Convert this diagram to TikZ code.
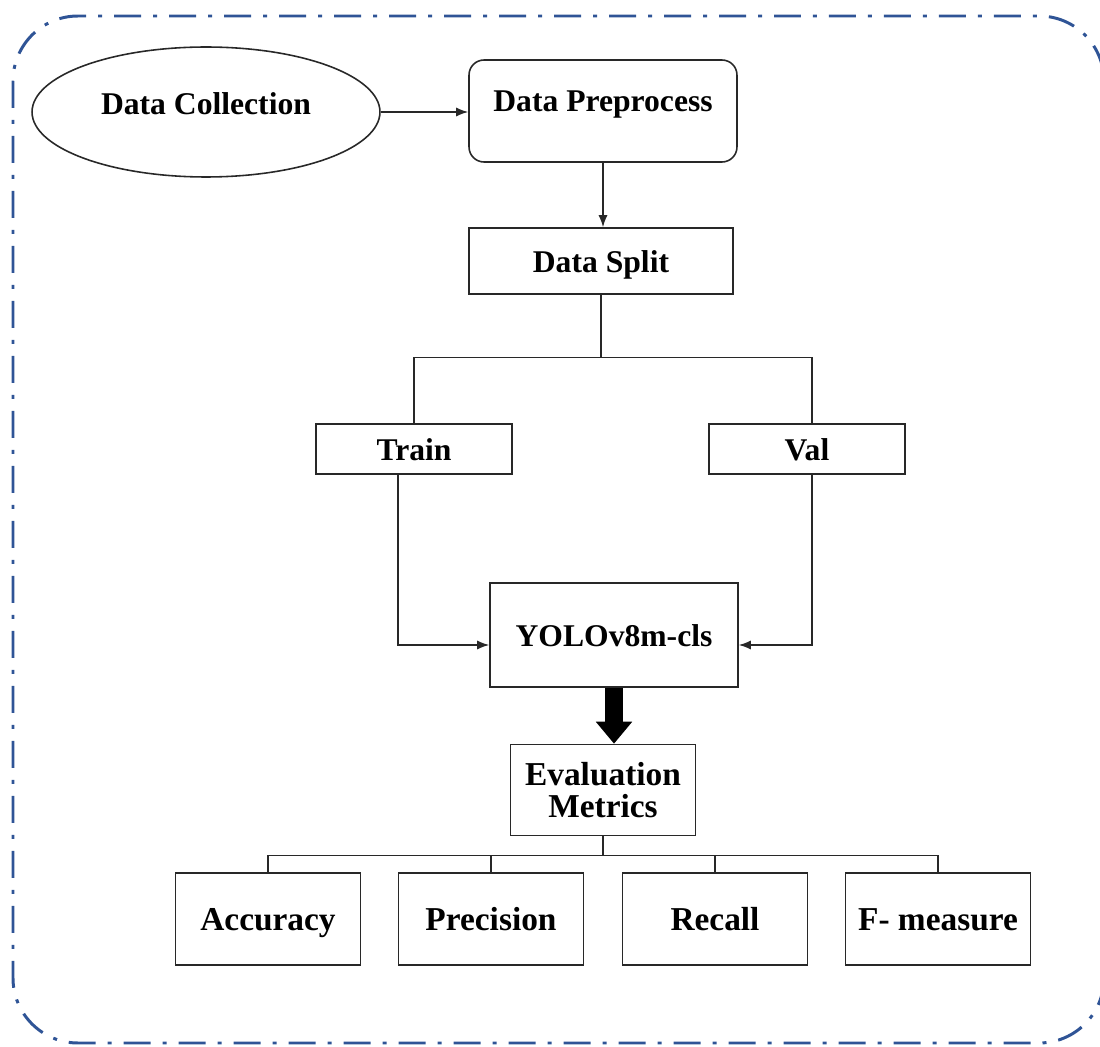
\documentclass[tikz,border=0pt]{standalone}
\usepackage{fontspec}
\setmainfont{Liberation Serif}
\usetikzlibrary{arrows.meta,shapes.geometric,calc}
\definecolor{frameblue}{RGB}{47,84,150}
\definecolor{ink}{RGB}{40,40,40}
\begin{document}
\begin{tikzpicture}[x=0.02cm,y=-0.02cm,
  every node/.style={font=\fontsize{18}{19}\selectfont\bfseries, inner sep=0pt, text=black},
  boxnode/.style={draw=ink, line width=0.9pt, rectangle, align=center},
  onebox/.style={boxnode, text height=0.5cm, text depth=0.04cm},
  bignode/.style={onebox, font=\fontsize{19}{20}\selectfont\bfseries},
  conn/.style={draw=ink, line width=0.8pt},
  arr/.style={conn, -{Latex[length=0.24cm,width=0.18cm]}},
  framestyle/.style={draw=frameblue, line width=1.7pt, rounded corners=1.3cm,
     dash pattern=on 0.54cm off 0.24cm on 0.08cm off 0.24cm}
]
\useasboundingbox (0,0) rectangle (1100,1047);
\draw[framestyle] (13,16) rectangle (1104,1043);

\node[draw=ink, line width=0.9pt, ellipse, minimum width=6.96cm, minimum height=2.6cm,
      text height=0.42cm, text depth=0.3cm] (coll) at (206,112) {Data Collection};
\node[boxnode, rounded corners=0.3cm, minimum width=5.36cm, text height=1.04cm, text depth=1.0cm] (prep) at (603,111) {Data Preprocess};
\node[onebox, minimum width=5.28cm, minimum height=1.32cm] (split) at (601,261) {Data Split};
\node[onebox, minimum width=3.92cm, minimum height=1.0cm] (train) at (414,449) {Train};
\node[onebox, minimum width=3.92cm, minimum height=1.0cm] (val) at (807,449) {Val};
\node[onebox, minimum width=4.96cm, minimum height=2.08cm] (yolo) at (614,635) {YOLOv8m-cls};
\node[boxnode, font=\fontsize{19}{20}\selectfont\bfseries, minimum width=3.7cm, minimum height=1.82cm] (eval) at (603,790) {Evaluation\\[-2pt]Metrics};
\node[bignode, minimum width=3.7cm, minimum height=1.84cm] (acc) at (268,919) {Accuracy};
\node[bignode, minimum width=3.7cm, minimum height=1.84cm] (prec) at (491,919) {Precision};
\node[bignode, minimum width=3.7cm, minimum height=1.84cm] (rec) at (715,919) {Recall};
\node[bignode, minimum width=3.7cm, minimum height=1.84cm] (fm) at (938,919) {F- measure};

\draw[arr] (coll.east) -- (coll.east -| prep.west);
\draw[arr] (prep.south) -- (prep.south |- split.north);
\draw[conn] (split.south) -- ++(0,63) coordinate (fork);
\draw[conn] (train.north) |- (fork) -| ($(val.north)+(5,0)$);
\draw[arr] ($(train.south)+(-16,0)$) |- ($(yolo.west)+(0,10)$);
\draw[arr] ($(val.south)+(5,0)$) |- ($(yolo.east)+(0,10)$);
\draw[draw=black, line width=0.36cm, -{Triangle[length=0.44cm,width=0.7cm]}] (yolo.south) -- (yolo.south |- eval.north);
\draw[conn] (eval.south) -- ++(0,19) coordinate (bus);
\draw[conn] (acc.north) |- (bus) -| (fm.north);
\draw[conn] (prec.north) -- (prec.north |- bus);
\draw[conn] (rec.north) -- (rec.north |- bus);
\end{tikzpicture}
\end{document}
